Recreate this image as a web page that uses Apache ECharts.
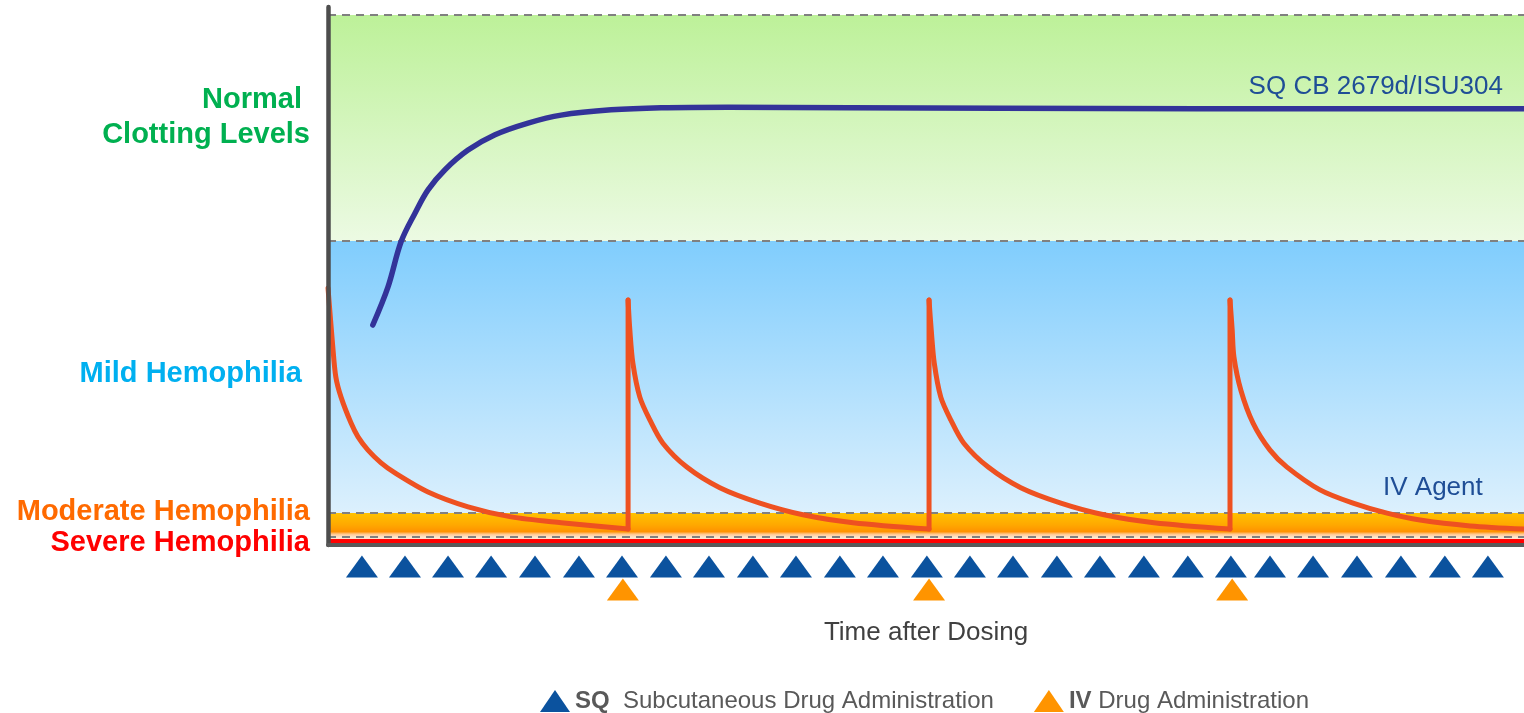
<!DOCTYPE html>
<html>
<head>
<meta charset="utf-8">
<script src="https://cdn.jsdelivr.net/npm/echarts@6/dist/echarts.min.js"></script>
<style>
  html, body { margin: 0; padding: 0; background: #fff; }
  #chart { width: 1524px; height: 713px; }
</style>
</head>
<body>
<div id="chart"></div>
<script>
// clotting level scale: 0 = axis, 100 = top dashed line
const bandEdges = [100, 57.36, 6.04, 1.51];
const severeLine = 0.75;

const levelNames = ["Normal \nClotting Levels", "Mild Hemophilia ", "Moderate Hemophilia", "Severe Hemophilia"];
const levelLabelAt = [80.6, 32.3, 6.2, 0.4];

// SQ CB 2679d/ISU304 curve (time in days, level)
const sqTime = [1.03, 1.38, 1.68, 2.0, 2.3, 2.69, 3.22, 3.84, 4.6, 5.36, 6.51, 7.66, 9.2, 12.0, 15.45, 20.0, 27.5];
const sqLevel = [41.5, 48.7, 57.2, 62.6, 67.0, 70.8, 74.5, 77.4, 79.6, 81.1, 82.1, 82.5, 82.6, 82.5, 82.4, 82.3, 82.3];

// IV agent curve (a repeated time marks an IV dose jump)
const ivTime = [
  0, 0.11, 0.18, 0.3, 0.53, 0.69, 0.92, 1.22, 1.54, 2.3, 3.22, 4.21, 5.36, 6.9,
  6.9, 6.94, 7.01, 7.17, 7.4, 7.7, 8.25, 9.01, 9.93, 10.92, 12.07, 13.82,
  13.82, 13.87, 13.94, 14.09, 14.32, 14.62, 15.18, 15.93, 16.85, 17.84, 18.99, 20.74,
  20.74, 20.79, 20.83, 20.99, 21.27, 21.66, 22.05, 22.81, 23.57, 24.35, 25.11, 26.26, 27.5
];
const ivLevel = [
  48.5, 37.4, 31.7, 27.9, 23.0, 20.4, 17.9, 15.5, 13.6, 10.0, 7.2, 5.3, 4.2, 3.0,
  46.2, 40.6, 34.3, 27.9, 23.6, 19.2, 14.7, 10.8, 7.9, 5.7, 4.2, 3.0,
  46.2, 40.6, 34.3, 27.9, 23.6, 19.2, 14.7, 10.8, 7.9, 5.7, 4.2, 3.0,
  46.2, 40.6, 35.5, 29.2, 23.0, 17.9, 14.7, 10.4, 7.9, 6.0, 4.7, 3.6, 3.0
];

// dosing times
const sqDoseTimes = [0.78, 1.77, 2.76, 3.75, 4.76, 5.77, 6.76, 7.77, 8.76, 9.77, 10.76, 11.77, 12.76, 13.77,
  14.76, 15.75, 16.76, 17.75, 18.76, 19.77, 20.76, 21.66, 22.65, 23.66, 24.67, 25.68, 26.67];
const ivDoseTimes = [6.78, 13.82, 20.79];

const FONT = "Liberation Sans, Arial, sans-serif";
const grad = (stops) => ({
  type: "linear", x: 0, y: 0, x2: 0, y2: 1,
  colorStops: stops.map(([offset, color]) => ({ offset, color })),
});
const levelStyles = ["g", "m", "o", "r"];

// split IV curve into smooth decays and vertical jumps
const ivDecay = [];
const ivJumps = [];
ivTime.forEach((t, i) => {
  if (i > 0 && t === ivTime[i - 1]) {
    ivDecay.push(null);
    ivJumps.push([t, ivLevel[i - 1]], [t, ivLevel[i]], null);
  }
  ivDecay.push([t, ivLevel[i]]);
});

const ivLine = { color: "#ee5121", width: 5, cap: "round", join: "round" };

const chart = echarts.init(document.getElementById("chart"));
chart.setOption({
  animation: false,
  textStyle: { fontFamily: FONT },
  grid: [
    { left: 328, right: 0, top: 7, bottom: 168 },
    { left: 328, right: 0, top: 555, height: 46 },
  ],
  xAxis: [
    {
      type: "value", min: 0, max: 27.5, gridIndex: 0, z: 10,
      axisLine: { lineStyle: { color: "#595959", width: 4 } },
      axisTick: { show: false }, axisLabel: { show: false }, splitLine: { show: false },
    },
    {
      type: "value", min: 0, max: 27.5, gridIndex: 1,
      axisLine: { show: false }, axisTick: { show: false }, axisLabel: { show: false }, splitLine: { show: false },
      name: "Time after Dosing", nameLocation: "middle", nameGap: 19,
      nameTextStyle: { fontSize: 26, color: "#404040", fontFamily: FONT, verticalAlign: "top" },
    },
  ],
  yAxis: [
    {
      type: "value", min: 0, max: 101.5, gridIndex: 0, z: 10,
      axisLine: { show: true, lineStyle: { color: "#4d4d4d", width: 4.5 } },
      axisTick: { show: false }, splitLine: { show: false },
      axisLabel: {
        customValues: levelLabelAt,
        margin: 18,
        formatter: (v) => {
          const i = levelLabelAt.indexOf(v);
          if (i < 0) return "";
          return levelNames[i].split("\n").map((s) => "{" + levelStyles[i] + "|" + s + "}").join("\n");
        },
        rich: {
          g: { color: "#00b050", fontSize: 29, fontWeight: "bold", lineHeight: 35, fontFamily: FONT, align: "right" },
          m: { color: "#00b0f0", fontSize: 29, fontWeight: "bold", fontFamily: FONT },
          o: { color: "#ff6a00", fontSize: 29, fontWeight: "bold", fontFamily: FONT },
          r: { color: "#ff0000", fontSize: 29, fontWeight: "bold", fontFamily: FONT },
        },
      },
    },
    {
      type: "category", data: ["SQ", "IV"], inverse: true, gridIndex: 1,
      axisLine: { show: false }, axisTick: { show: false }, axisLabel: { show: false },
    },
  ],
  legend: {
    left: 535, top: 684,
    itemWidth: 30, itemHeight: 22, itemGap: 40,
    icon: "triangle",
    data: ["SQ", "IV"],
    formatter: (name) => name === "SQ"
      ? "{b|SQ}  Subcutaneous Drug Administration"
      : "{b|IV} Drug Administration",
    textStyle: {
      fontSize: 24, color: "#595959", fontFamily: FONT,
      rich: { b: { fontSize: 24, fontWeight: "bold", color: "#595959", fontFamily: FONT } },
    },
  },
  graphic: [
    {
      type: "text", x: 1503, y: 87, z: 10,
      style: { text: "SQ CB 2679d/ISU304", font: "26px " + FONT, fill: "#1f4e96", align: "right", verticalAlign: "middle" },
    },
    {
      type: "text", x: 1383, y: 488, z: 10,
      style: { text: "IV Agent", font: "26px " + FONT, fill: "#1f4e96", align: "left", verticalAlign: "middle" },
    },
  ],
  series: [
    {
      name: "bands", type: "line", data: [], z: 1, silent: true,
      markArea: {
        silent: true,
        data: [
          [{ yAxis: bandEdges[0], itemStyle: { color: grad([[0, "#bdf199"], [1, "#ecfae3"]]) } }, { yAxis: bandEdges[1] }],
          [{ yAxis: bandEdges[1], itemStyle: { color: grad([[0, "#80cdfd"], [1, "#dcf0fd"]]) } }, { yAxis: bandEdges[2] }],
          [{ yAxis: bandEdges[2], itemStyle: { color: grad([[0, "#ffc200"], [0.5, "#ffa800"], [0.78, "#ff9200"], [0.88, "#ffc890"], [1, "#ffe2c8"]]) } }, { yAxis: bandEdges[3] }],
          [{ yAxis: bandEdges[3], itemStyle: { color: "#ffe4cc" } }, { yAxis: 0 }],
        ],
      },
      markLine: {
        silent: true, symbol: "none", label: { show: false },
        data: [
          ...bandEdges.map((v) => ({ yAxis: v, lineStyle: { color: "#808080", width: 2, type: [8, 6] } })),
          { yAxis: severeLine, lineStyle: { color: "#ff0000", width: 4, type: "solid" } },
        ],
      },
    },
    {
      name: "SQ CB 2679d/ISU304", type: "line", z: 5,
      data: sqTime.map((t, i) => [t, sqLevel[i]]),
      smooth: 0.35, showSymbol: false,
      lineStyle: { color: "#333399", width: 5.5, cap: "round", join: "round" },
    },
    {
      name: "IV Agent", type: "line", z: 5,
      data: ivDecay, connectNulls: false,
      smooth: 0.3, showSymbol: false,
      lineStyle: ivLine,
    },
    {
      name: "IV jumps", type: "line", z: 5,
      data: ivJumps, connectNulls: false,
      showSymbol: false,
      lineStyle: ivLine,
    },
    {
      name: "SQ", type: "scatter", xAxisIndex: 1, yAxisIndex: 1,
      symbol: "triangle", symbolSize: [32, 22],
      itemStyle: { color: "#0b529e", opacity: 1 },
      data: sqDoseTimes.map((t) => [t, 0]),
    },
    {
      name: "IV", type: "scatter", xAxisIndex: 1, yAxisIndex: 1,
      symbol: "triangle", symbolSize: [32, 22],
      itemStyle: { color: "#ff9400", opacity: 1 },
      data: ivDoseTimes.map((t) => [t, 1]),
    },
  ],
});
</script>
</body>
</html>
